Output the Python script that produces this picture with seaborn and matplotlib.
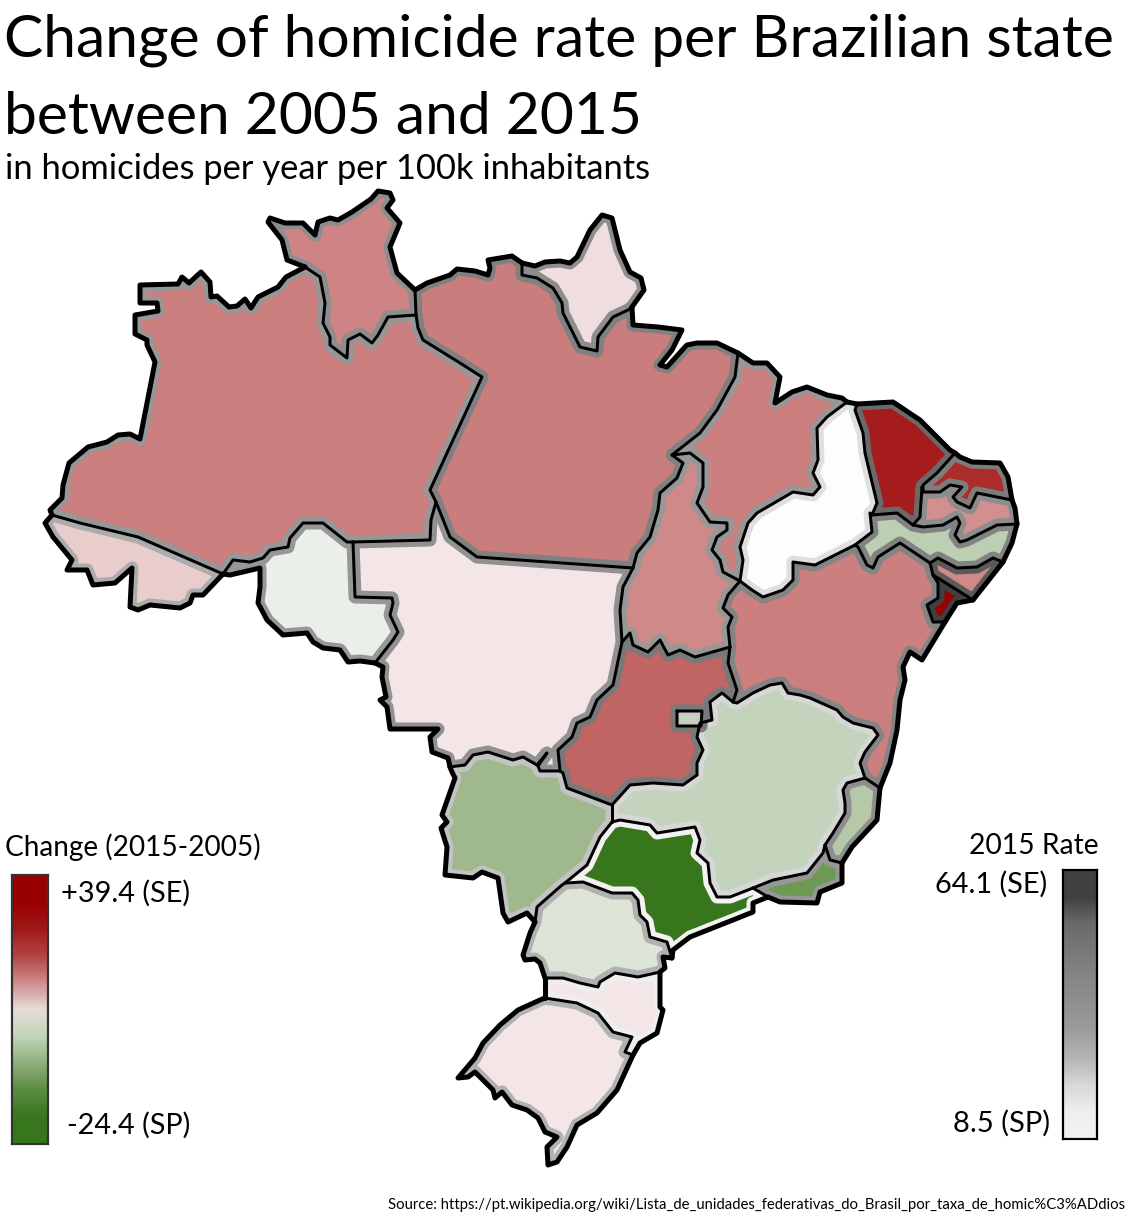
#!/usr/bin/env python3
# -*- coding: utf-8 -*-

import matplotlib
matplotlib.use("Agg")
import matplotlib.pyplot as plt
import numpy as np
import seaborn as sns
from matplotlib.colors import LinearSegmentedColormap, Normalize
from matplotlib.patches import Polygon

# State values
STATES = ["AC", "AL", "AM", "AP", "BA", "CE", "DF", "ES", "GO", "MA", "MG", "MS", "MT", "PA",
          "PB", "PE", "PI", "PR", "RJ", "RN", "RO", "RR", "RS", "SC", "SE", "SP", "TO"]
CHANGE = [5.0, 11.0, 12.0, 3.0, 12.0, 30.0, -5.0, -7.0, 17.0, 12.0, -5.0, -10.0, 2.0, 12.5,
          10.5, -6.0, 0.0, -2.5, -18.0, 27.0, -1.0, 11.5, 2.0, 2.0, 39.4, -24.4, 11.0]
RATE = [27.0, 55.0, 33.0, 38.0, 42.0, 53.0, 22.0, 37.0, 47.0, 33.0, 20.0, 23.0, 36.0, 44.0,
        38.0, 43.0, 18.0, 26.0, 33.0, 45.0, 33.0, 38.0, 26.0, 14.0, 64.1, 8.5, 33.0]

CHANGE_STOPS = [-24.4, -18.0, -10.0, -5.0, -1.0, 0.0, 2.0, 5.0, 12.0, 17.0, 30.0, 39.4]
CHANGE_COLORS = ["#38761d", "#6d9b56", "#a0b98f", "#c5d5bd", "#ecf0ea", "#ffffff",
                 "#f3e4e4", "#e9cccc", "#cc8080", "#c06565", "#a61c1c", "#990000"]
CHANGE_BAR = ["#990000", "#990000", "#a01818", "#b24444", "#cf8c8c", "#e6dcd8",
              "#c2d4ba", "#8fae7c", "#5a8c42", "#38761d", "#38761d"]
RATE_BAR = ["#404040", "#404040", "#6a6a6a", "#787878", "#858585", "#909090",
            "#9c9c9c", "#b4b4b4", "#d8d8d8", "#eeeeee", "#f2f2f2"]

# Outlines, traced in image pixels. Each border is shared by the states on both sides.
BORDERS = {
    "COAST_AM": [(52, 515), (50, 510), (62, 498), (63, 485), (69, 463), (88, 447), (107, 442), (118, 435),
                 (130, 434), (140, 439), (155, 362), (147, 345), (147, 340), (135, 334), (135, 315), (158, 311),
                 (157, 303), (140, 303), (140, 285), (178, 284), (182, 277), (189, 283), (201, 272), (210, 282),
                 (211, 297), (217, 296), (229, 307), (237, 306), (245, 299), (251, 308), (258, 297), (278, 287),
                 (286, 277), (305, 267)],
    "AM_RR": [(305, 267), (320, 277), (325, 303), (323, 323), (330, 337), (330, 345), (347, 358), (348, 340),
              (360, 334), (372, 343), (378, 335), (388, 317), (416, 315)],
    "COAST_RR": [(305, 267), (287, 260), (282, 240), (268, 222), (270, 218), (285, 223), (303, 223), (315, 235),
                 (318, 222), (330, 218), (338, 220), (352, 212), (371, 199), (378, 191), (390, 193), (393, 200),
                 (387, 208), (400, 223), (390, 247), (397, 273), (415, 290)],
    "RR_PA": [(415, 290), (416, 315)],
    "AM_PA": [(416, 315), (418, 328), (423, 340), (460, 363), (482, 377), (430, 490), (436, 502)],
    "AM_MT": [(436, 502), (431, 520), (430, 540), (353, 542)],
    "AM_RO": [(353, 542), (347, 542), (323, 523), (303, 523), (290, 538), (288, 547), (270, 550), (263, 558),
              (250, 562), (233, 560), (223, 574)],
    "AM_AC": [(223, 574), (138, 537), (80, 523), (52, 515)],
    "COAST_AC": [(52, 515), (45, 523), (53, 537), (72, 560), (67, 570), (87, 570), (93, 585), (115, 583),
                 (132, 568), (130, 607), (138, 610), (150, 605), (180, 608), (190, 603), (193, 595), (203, 595),
                 (223, 574)],
    "COAST_RO": [(223, 574), (230, 575), (243, 572), (260, 568), (260, 587), (258, 603), (267, 620), (283, 635),
                 (307, 633), (313, 642), (323, 648), (340, 650), (348, 662), (360, 661), (375, 663)],
    "RO_MT": [(375, 663), (393, 640), (398, 632), (390, 615), (393, 603), (392, 598), (355, 597), (353, 542)],
    "COAST_PA1": [(415, 290), (427, 283), (450, 275), (457, 269), (475, 271), (488, 275), (490, 268), (488, 260),
                  (512, 256), (522, 263)],
    "PA_AP": [(522, 263), (522, 275), (537, 278), (553, 288), (562, 303), (563, 313), (580, 347), (597, 351),
              (598, 337), (613, 317), (628, 310), (632, 307)],
    "COAST_AP": [(522, 263), (535, 266), (545, 262), (560, 261), (570, 263), (577, 257), (590, 230), (602, 215),
                 (612, 218), (620, 250), (630, 272), (641, 278), (644, 290), (632, 307)],
    "COAST_PA2": [(632, 307), (633, 325), (658, 327), (682, 330), (672, 350), (660, 365), (667, 367), (685, 347),
                  (687, 345), (697, 343), (717, 343), (738, 353)],
    "PA_MA": [(738, 353), (735, 377), (717, 410), (700, 433), (672, 455)],
    "PA_TO": [(672, 455), (683, 463), (677, 478), (660, 493), (658, 510), (650, 537), (637, 553), (633, 568)],
    "PA_MT": [(633, 568), (477, 557), (450, 537), (436, 502)],
    "MT_TO": [(633, 568), (623, 587), (620, 610), (622, 642)],
    "TO_GO": [(622, 642), (630, 633), (633, 645), (648, 652), (660, 640), (668, 655), (680, 650), (695, 657),
              (730, 647)],
    "MT_GO": [(622, 642), (613, 685), (597, 700), (590, 717), (577, 723), (572, 737), (558, 750), (560, 771)],
    "MT_MS": [(560, 771), (540, 771), (538, 766), (547, 753), (537, 765), (523, 757), (513, 760), (488, 752),
              (473, 755), (465, 765), (450, 767)],
    "COAST_MT": [(450, 767), (448, 758), (432, 752), (430, 737), (438, 729), (390, 729), (387, 707), (380, 700),
                 (386, 697), (382, 677), (383, 667), (375, 663)],
    "TO_MA": [(672, 455), (690, 453), (703, 463), (703, 487), (697, 503), (710, 522), (727, 523), (727, 530),
              (717, 537), (712, 550), (720, 560), (723, 572), (740, 581)],
    "TO_BA": [(740, 581), (728, 595), (723, 608), (732, 617), (728, 627), (730, 647)],
    "COAST_MA": [(738, 353), (753, 363), (767, 363), (780, 377), (775, 403), (792, 392), (807, 387), (827, 395),
                 (842, 398), (847, 402)],
    "MA_PI": [(847, 402), (827, 417), (817, 428), (818, 460), (813, 473), (820, 487), (813, 495), (793, 492),
              (757, 513), (748, 523), (740, 547), (743, 560), (740, 581)],
    "COAST_PI": [(847, 402), (857, 404)],
    "PI_CE": [(857, 404), (855, 410), (863, 433), (865, 453), (877, 503), (872, 515)],
    "PI_PE": [(872, 515), (870, 513), (872, 532), (855, 545)],
    "PI_BA": [(855, 545), (815, 565), (793, 562), (793, 580), (783, 590), (763, 597), (752, 590), (740, 581)],
    "COAST_CE": [(857, 404), (893, 402), (920, 420), (950, 450), (955, 453)],
    "CE_RN": [(955, 453), (937, 473), (923, 485), (923, 492)],
    "CE_PB": [(923, 492), (922, 487), (920, 517), (913, 525)],
    "CE_PE": [(913, 525), (897, 513), (872, 515)],
    "COAST_RN": [(955, 453), (960, 457), (972, 462), (1000, 463), (1008, 477), (1012, 500)],
    "RN_PB": [(1012, 500), (977, 493), (970, 508), (957, 502), (953, 497), (962, 487), (950, 485), (940, 492),
              (923, 492)],
    "COAST_PB": [(1012, 500), (1015, 508), (1017, 524)],
    "PB_PE": [(1017, 524), (997, 525), (967, 540), (960, 542), (955, 535), (960, 523), (957, 517), (943, 525),
              (923, 527), (913, 525)],
    "COAST_PE": [(1017, 524), (1012, 543), (1003, 562)],
    "PE_AL": [(1003, 562), (993, 558), (977, 567), (957, 568), (938, 558), (930, 563)],
    "PE_BA": [(930, 563), (900, 543), (878, 557), (873, 568), (867, 565), (858, 547), (855, 545)],
    "COAST_AL": [(1003, 562), (973, 600)],
    "AL_SE": [(973, 600), (933, 575)],
    "AL_BA": [(933, 575), (930, 563)],
    "COAST_SE": [(973, 600), (957, 603), (945, 622)],
    "SE_BA": [(945, 622), (933, 622), (927, 605), (938, 598), (938, 583), (933, 575)],
    "COAST_BA": [(945, 622), (922, 660), (910, 652), (903, 667), (905, 680), (900, 700), (897, 730), (890, 763),
                 (880, 788)],
    "BA_ES": [(880, 788), (865, 778)],
    "BA_MG": [(865, 778), (860, 763), (865, 752), (878, 735), (873, 728), (853, 723), (843, 717), (837, 710),
              (810, 698), (800, 695), (788, 693), (782, 683), (770, 685), (753, 693), (737, 703), (733, 702)],
    "BA_GO": [(733, 702), (737, 690), (728, 663), (730, 647)],
    "GO_MG": [(733, 702), (722, 693), (710, 702), (712, 720), (700, 723), (697, 737), (703, 750), (697, 763),
              (697, 775), (683, 785), (653, 783), (630, 785), (612, 805)],
    "GO_MS": [(612, 805), (567, 788), (563, 773), (560, 771)],
    "MG_ES": [(865, 778), (847, 783), (843, 790), (845, 803), (845, 813), (833, 833), (825, 845)],
    "MG_RJ": [(825, 845), (823, 853), (807, 873), (773, 880), (753, 888)],
    "MG_SP": [(753, 888), (730, 897), (717, 897), (710, 883), (708, 863), (697, 853), (700, 840), (695, 827),
              (657, 833), (650, 825), (620, 820), (612, 822)],
    "MG_MS": [(612, 822), (612, 805)],
    "COAST_ES": [(880, 788), (877, 820), (852, 847), (842, 863)],
    "ES_RJ": [(842, 863), (830, 860), (825, 845)],
    "COAST_RJ": [(842, 863), (842, 883), (820, 892), (817, 903), (780, 902), (768, 897)],
    "RJ_SP": [(768, 897), (753, 888)],
    "COAST_SP": [(768, 897), (753, 903), (753, 912), (733, 920), (690, 937), (673, 950), (672, 958)],
    "SP_PR": [(672, 958), (667, 942), (650, 937), (647, 922), (640, 915), (638, 900), (632, 893), (612, 893),
              (583, 882), (565, 883)],
    "SP_MS": [(565, 883), (587, 865), (600, 837), (612, 822)],
    "MS_PR": [(565, 883), (562, 885), (537, 907), (535, 922)],
    "COAST_MS": [(535, 922), (527, 913), (508, 922), (503, 913), (498, 878), (482, 872), (473, 878), (445, 875),
                 (447, 847), (441, 828), (447, 822), (442, 815), (455, 778), (452, 772), (450, 767)],
    "COAST_PR": [(672, 958), (663, 957), (665, 968), (660, 972)],
    "PR_SC": [(660, 972), (638, 977), (615, 973), (600, 982), (598, 987), (580, 983), (563, 978), (545, 978)],
    "COAST_PRW": [(545, 978), (540, 963), (535, 959), (525, 960), (523, 955), (530, 933), (535, 922)],
    "COAST_SC": [(660, 972), (660, 1007), (663, 1010), (657, 1033), (640, 1043), (633, 1055)],
    "SC_RS": [(633, 1055), (625, 1052), (632, 1037), (613, 1032), (598, 1013), (577, 1003), (545, 998)],
    "COAST_SCW": [(545, 998), (545, 978)],
    "COAST_RS": [(633, 1055), (617, 1090), (597, 1113), (577, 1125), (567, 1147), (557, 1162), (548, 1165),
                 (547, 1147), (557, 1137), (545, 1132), (538, 1118), (527, 1110), (512, 1105), (502, 1092),
                 (495, 1098), (493, 1090), (475, 1072), (468, 1077), (458, 1078), (475, 1058), (483, 1043),
                 (500, 1025), (518, 1010), (540, 1000), (545, 998)],
    "DF_RING": [(677, 711), (702, 711), (701, 726), (677, 726), (677, 711)],
}

# How each state is closed; a leading minus walks the border backwards
STATE_RINGS = {
    "AM": ["COAST_AM", "AM_RR", "AM_PA", "AM_MT", "AM_RO", "AM_AC"],
    "RR": ["COAST_RR", "RR_PA", "-AM_RR"],
    "PA": ["COAST_PA1", "PA_AP", "COAST_PA2", "PA_MA", "PA_TO", "PA_MT", "-AM_PA", "-RR_PA"],
    "AP": ["COAST_AP", "-PA_AP"],
    "AC": ["COAST_AC", "AM_AC"],
    "RO": ["COAST_RO", "RO_MT", "AM_RO"],
    "MT": ["AM_MT", "-RO_MT", "-COAST_MT", "-MT_MS", "-MT_GO", "-MT_TO", "PA_MT"],
    "TO": ["PA_TO", "MT_TO", "TO_GO", "-TO_BA", "-TO_MA"],
    "MA": ["COAST_MA", "MA_PI", "-TO_MA", "-PA_MA"],
    "PI": ["COAST_PI", "PI_CE", "PI_PE", "PI_BA", "-MA_PI"],
    "CE": ["COAST_CE", "CE_RN", "CE_PB", "CE_PE", "-PI_CE"],
    "RN": ["COAST_RN", "RN_PB", "-CE_RN"],
    "PB": ["-RN_PB", "COAST_PB", "PB_PE", "-CE_PB"],
    "PE": ["-CE_PE", "-PB_PE", "COAST_PE", "PE_AL", "PE_BA", "-PI_PE"],
    "AL": ["-PE_AL", "COAST_AL", "AL_SE", "AL_BA"],
    "SE": ["-AL_SE", "COAST_SE", "SE_BA"],
    "BA": ["-PI_BA", "-PE_BA", "-AL_BA", "-SE_BA", "COAST_BA", "BA_ES", "BA_MG", "BA_GO", "-TO_BA"],
    "GO": ["TO_GO", "-BA_GO", "GO_MG", "GO_MS", "-MT_GO"],
    "MG": ["-BA_MG", "MG_ES", "MG_RJ", "MG_SP", "MG_MS", "-GO_MG"],
    "ES": ["-BA_ES", "COAST_ES", "ES_RJ", "-MG_ES"],
    "RJ": ["-ES_RJ", "COAST_RJ", "RJ_SP", "-MG_RJ"],
    "SP": ["-MG_SP", "-RJ_SP", "COAST_SP", "SP_PR", "SP_MS"],
    "MS": ["-SP_MS", "MS_PR", "COAST_MS", "-MT_MS", "-GO_MS", "-MG_MS"],
    "PR": ["-SP_PR", "COAST_PR", "PR_SC", "COAST_PRW", "-MS_PR"],
    "SC": ["-PR_SC", "COAST_SC", "SC_RS", "COAST_SCW"],
    "RS": ["-SC_RS", "COAST_RS"],
    "DF": ["DF_RING"],
}

TITLE_LINES = ["Change of homicide rate per Brazilian state", "between 2005 and 2015"]
SUBTITLE = "in homicides per year per 100k inhabitants"
SOURCE = "Source: https://pt.wikipedia.org/wiki/Lista_de_unidades_federativas_do_Brasil_por_taxa_de_homic%C3%ADdios"

WIDTH, HEIGHT = 1127, 1214
PX = 0.72  # one pixel in points at dpi 100


def ring_points(names):
    points = []
    for name in names:
        if name.startswith("-"):
            points.extend(BORDERS[name[1:]][::-1])
        else:
            points.extend(BORDERS[name])
    return np.array(points, dtype=float)


def gradient_bar(fig, left, top, right, bottom, colors, edge):
    # Legend bar as a one column heatmap, placed in image pixels
    ax = fig.add_axes([left / WIDTH, 1 - bottom / HEIGHT, (right - left) / WIDTH, (bottom - top) / HEIGHT])
    cmap = sns.blend_palette(colors, as_cmap=True)
    values = np.linspace(0, 1, 256).reshape(-1, 1)
    sns.heatmap(values, cmap=cmap, cbar=False, xticklabels=False, yticklabels=False, ax=ax)
    for spine in ax.spines.values():
        spine.set_visible(True)
        spine.set_edgecolor(edge)
        spine.set_linewidth(2.2 * PX)


def plot_map():
    sns.set_theme(style="white")
    plt.rcParams["font.family"] = ["Lato", "DejaVu Sans"]

    fig = plt.figure(figsize=(WIDTH / 100, HEIGHT / 100), dpi=100, facecolor="white")
    ax = fig.add_axes([0, 0, 1, 1])
    ax.set_xlim(0, WIDTH)
    ax.set_ylim(HEIGHT, 0)
    ax.axis("off")

    nodes = [(s - CHANGE_STOPS[0]) / (CHANGE_STOPS[-1] - CHANGE_STOPS[0]) for s in CHANGE_STOPS]
    change_cmap = LinearSegmentedColormap.from_list("change", list(zip(nodes, CHANGE_COLORS)))
    change_norm = Normalize(CHANGE_STOPS[0], CHANGE_STOPS[-1])
    rate_cmap = sns.blend_palette(RATE_BAR[::-1], as_cmap=True)
    rate_norm = Normalize(8.5, 64.1)

    for code, change, rate in zip(STATES, CHANGE, RATE):
        points = ring_points(STATE_RINGS[code])
        if code == "DF":
            # DF sits inside GO, so GO's stroke also runs around it
            go_rate = RATE[STATES.index("GO")]
            ax.add_patch(Polygon(points, closed=True, facecolor="none", edgecolor=rate_cmap(rate_norm(go_rate)),
                                 linewidth=13 * PX, joinstyle="round", zorder=2.5))
        order = 3 if code == "DF" else 1
        fill = Polygon(points, closed=True, facecolor=change_cmap(change_norm(change)), edgecolor="none",
                       zorder=order)
        ax.add_patch(fill)
        # Inner stroke carries the 2015 rate, clipped so only the inside half shows
        stroke_width = 8 if code == "DF" else 13
        stroke = Polygon(points, closed=True, facecolor="none", edgecolor=rate_cmap(rate_norm(rate)),
                         linewidth=stroke_width * PX, joinstyle="round", zorder=order + 0.2)
        ax.add_patch(stroke)
        stroke.set_clip_path(fill)

    for name, points in BORDERS.items():
        xs, ys = zip(*points)
        width = 5.0 if name.startswith("COAST") else 3.0
        ax.plot(xs, ys, color="black", linewidth=width * PX, solid_capstyle="round",
                solid_joinstyle="round", zorder=4)

    ax.text(4, 40, TITLE_LINES[0], fontsize=42.3, va="center", ha="left", color="black")
    ax.text(4, 117, TITLE_LINES[1], fontsize=42.3, va="center", ha="left", color="black")
    ax.text(5, 169, SUBTITLE, fontsize=24.85, va="center", ha="left", color="black")

    ax.text(5, 847, "Change (2015-2005)", fontsize=20.2, va="center", ha="left", color="black")
    ax.text(61, 893, "+39.4 (SE)", fontsize=20.8, va="center", ha="left", color="black")
    ax.text(67, 1125, "-24.4 (SP)", fontsize=20.7, va="center", ha="left", color="black")

    ax.text(1099, 846, "2015 Rate", fontsize=20.3, va="center", ha="right", color="black")
    ax.text(1047, 884, "64.1 (SE)", fontsize=20.8, va="center", ha="right", color="black")
    ax.text(1050, 1123, "8.5 (SP)", fontsize=21, va="center", ha="right", color="black")

    ax.text(1125, 1205, SOURCE, fontsize=10.75, va="center", ha="right", color="black")

    gradient_bar(fig, 12, 875, 48, 1144, CHANGE_BAR, "#333333")
    gradient_bar(fig, 1063, 870, 1097, 1139, RATE_BAR, "black")

    fig.savefig("out.png", dpi=100, facecolor="white")


if __name__ == "__main__":
    plot_map()
